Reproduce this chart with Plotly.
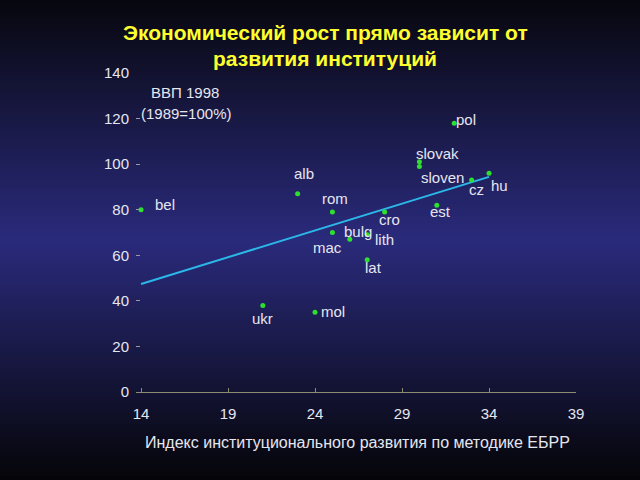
import plotly.graph_objects as go

# ---- data ----
countries = ["bel", "alb", "rom", "mac", "bulg", "lith", "lat", "cro", "ukr", "mol",
             "pol", "slovak", "sloven", "est", "cz", "hu"]
eb_index = [14, 23, 25, 25, 26, 27, 27, 28, 21, 24, 32, 30, 30, 31, 33, 34]
gdp_1998 = [80, 87, 79, 70, 67, 69, 58, 79, 38, 35, 118, 101, 99, 82, 93, 96]
trend_x = [14, 34]
trend_y = [47.4, 94.4]
x_ticks = [14, 19, 24, 29, 34, 39]
y_ticks = [0, 20, 40, 60, 80, 100, 120, 140]

# label offsets in pixels (dx right, dy down)
label_offsets = {
    "bel": (24, -5), "alb": (6, -20), "rom": (3, -13), "mac": (-5, 15),
    "bulg": (8, -8), "lith": (17, 5), "lat": (6, 8), "cro": (5, 8),
    "ukr": (0, 13), "mol": (18, -1), "pol": (12, -4), "slovak": (18, -8),
    "sloven": (23, 11), "est": (4, 6), "cz": (5, 9), "hu": (10, 12),
}

FONT = "Liberation Sans, Arial"
L, R, T, B = 136, 64, 73, 88
W, H = 640, 480
pw, ph = W - L - R, H - T - B


def px_x(x):
    return (x - L) / pw


def px_y(y):
    # y measured from top of the figure in pixels
    return (H - y - B) / ph


fig = go.Figure()

# gradient background (pixel rows from top)
def lerp(a, b, t):
    return tuple(int(round(a[i] + (b[i] - a[i]) * t)) for i in range(3))

top = (7, 7, 14)
mid = (42, 42, 124)
bot = (5, 5, 8)
n = 120
shapes = []
step = H / n
for i in range(n):
    yt = i * step
    yb = (i + 1) * step
    yc = (i + 0.5) * step / H
    midpos = 0.5
    if yc < midpos:
        c = lerp(top, mid, yc / midpos)
    else:
        c = lerp(mid, bot, (yc - midpos) / (1 - midpos))
    shapes.append(dict(type="rect", xref="paper", yref="paper",
                       x0=px_x(-5), x1=px_x(W + 5), y0=px_y(yb + 1), y1=px_y(yt),
                       fillcolor="rgb(%d,%d,%d)" % c, line=dict(width=0), layer="below"))

fig.add_trace(go.Scatter(x=trend_x, y=trend_y, mode="lines",
                         line=dict(color="#2bb8e8", width=2), hoverinfo="skip"))
fig.add_trace(go.Scatter(x=eb_index, y=gdp_1998, mode="markers",
                         marker=dict(color="#2ee02e", size=5), hoverinfo="skip"))

annotations = []
for c, x, y in zip(countries, eb_index, gdp_1998):
    dx, dy = label_offsets[c]
    annotations.append(dict(x=x, y=y, xref="x", yref="y", text=c, showarrow=False,
                            xshift=dx, yshift=-dy,
                            font=dict(family=FONT, size=15, color="#e6e6f0")))


def paper_text(x, y, text, size, color):
    annotations.append(dict(x=px_x(x), y=px_y(y), xref="paper", yref="paper", text=text,
                            showarrow=False, xanchor="center", yanchor="middle",
                            font=dict(family=FONT, size=size, color=color)))


paper_text(185, 92, "ВВП 1998", 15, "#e6e6f0")
paper_text(186, 113, "(1989=100%)", 15, "#e6e6f0")
paper_text(325, 32, "<b>Экономический рост прямо зависит от</b>", 21, "#ffff2e")
paper_text(325, 58, "<b>развития институций</b>", 21, "#ffff2e")
paper_text(357, 442, "Индекс институционального развития по методике ЕБРР", 16, "#e6e6f0")

fig.update_layout(
    width=W, height=H, margin=dict(l=L, r=R, t=T, b=B),
    paper_bgcolor="#0a0a14", plot_bgcolor="rgba(0,0,0,0)",
    showlegend=False, shapes=shapes, annotations=annotations,
    xaxis=dict(range=[13.71, 39], tickvals=x_ticks, showgrid=False, zeroline=False,
               showline=True, linecolor="#8c8c70", linewidth=1,
               ticks="inside", ticklen=4, tickcolor="#8c8c70", ticklabelstandoff=8,
               tickfont=dict(family=FONT, size=15, color="#e6e6f0")),
    yaxis=dict(range=[0, 140], tickvals=y_ticks, showgrid=False, zeroline=False,
               showline=False, ticks="inside", ticklen=4, tickcolor="#9a9aa0",
               ticklabelstandoff=6,
               tickfont=dict(family=FONT, size=15, color="#e6e6f0")),
)

fig.write_html("out.html")
